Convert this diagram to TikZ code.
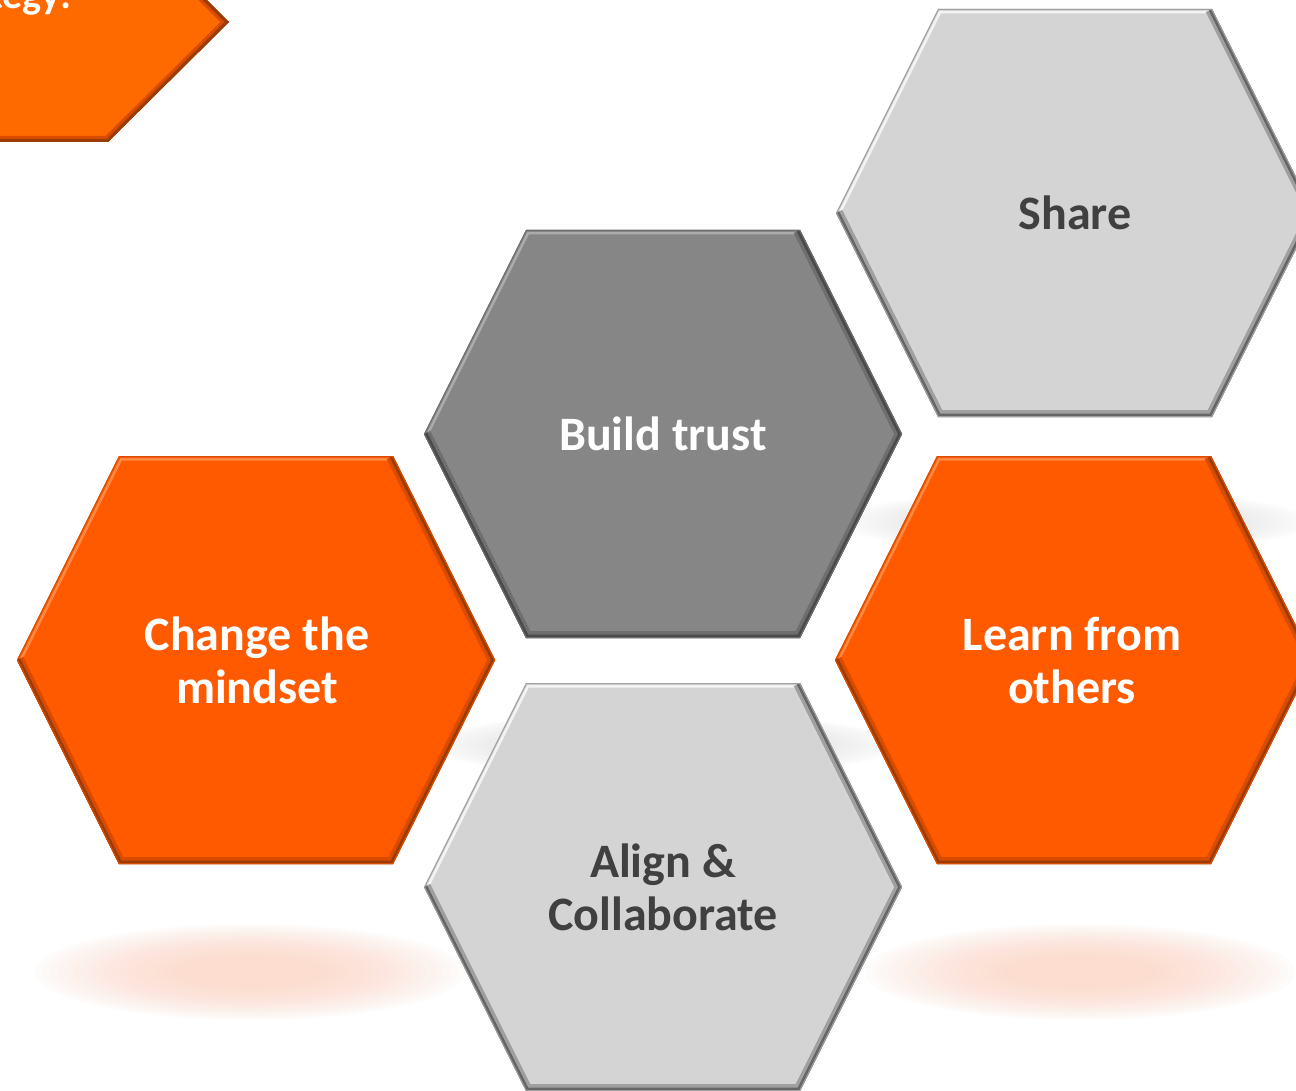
\documentclass[tikz,border=0pt]{standalone}
\usepackage{fontspec}
\setmainfont{Carlito}
\definecolor{orFill}{HTML}{FF5A00}
\definecolor{orLight}{HTML}{FF8C45}
\definecolor{orMid}{HTML}{D94C00}
\definecolor{orDark}{HTML}{9A3C06}
\definecolor{orTop}{HTML}{FF6A00}
\definecolor{lgFill}{HTML}{D4D4D4}
\definecolor{lgLight}{HTML}{F4F4F4}
\definecolor{lgMid}{HTML}{A0A0A0}
\definecolor{lgDark}{HTML}{666666}
\definecolor{dgFill}{HTML}{868686}
\definecolor{dgLight}{HTML}{ABABAB}
\definecolor{dgMid}{HTML}{6E6E6E}
\definecolor{dgDark}{HTML}{4A4A4A}
\definecolor{txtDark}{HTML}{404040}
\definecolor{shOr}{HTML}{FCD4C2}
\definecolor{shGr}{HTML}{D6D6D6}
\tikzset{
  lbl/.style={font=\bfseries\fontsize{48}{53}\selectfont, align=center, inner sep=0pt},
}
% hexagon path: centre x, centre y
\newcommand{\hexpath}[2]{(#1-239,#2) -- (#1-137,#2-204) -- (#1+137,#2-204) -- (#1+239,#2) -- (#1+137,#2+204) -- (#1-137,#2+204) -- cycle}
% hexagon: centre x, centre y, fill, light, mid, dark
\newcommand{\hexshape}[6]{%
  \begin{scope}
    \clip \hexpath{#1}{#2};
    \fill[#3] (#1-250,#2-215) rectangle (#1+250,#2+215);
    \draw[#4, line width=9pt, line join=miter] (#1-137,#2+204) -- (#1-239,#2) -- (#1-137,#2-204) -- (#1+137,#2-204);
    \draw[#3, line width=4pt, line join=miter] (#1-137,#2+204) -- (#1-239,#2) -- (#1-137,#2-204) -- (#1+137,#2-204);
    \draw[#5, line width=14pt, line join=miter] (#1+137,#2-204) -- (#1+239,#2) -- (#1+137,#2+204) -- (#1-137,#2+204) -- (#1-239,#2);
    \draw[#6, line width=7pt, line join=miter] (#1+137,#2-204) -- (#1+239,#2) -- (#1+137,#2+204) -- (#1-137,#2+204) -- (#1-239,#2);
    \draw[#5, line width=2pt] \hexpath{#1}{#2};
  \end{scope}}
\newcommand{\softshadow}[5]{% cx cy rx ry color
  \foreach \k in {0,...,19} {
    \fill[#5, opacity=0.055] (#1,#2) ellipse ({#3-\k*#3/28} and {#4-\k*#4/28});
  }}
\begin{document}
\begin{tikzpicture}[x=1pt,y=-1pt]
\useasboundingbox (0,0) rectangle (1296,1091);
\fill[white] (0,0) rectangle (1296,1091);

% soft shadows / reflections
\softshadow{250}{972}{215}{48}{shOr}
\softshadow{1080}{972}{215}{48}{shOr}
\softshadow{663}{745}{235}{32}{shGr}
\softshadow{1075}{522}{235}{32}{shGr}

% top-left partial shape
\begin{scope}
  \clip (-20,-98) -- (108,-98) -- (229,22) -- (108,142) -- (-20,142) -- cycle;
  \fill[orTop] (-20,-100) rectangle (240,150);
  \draw[orMid, line width=12pt, line join=miter] (108,-98) -- (229,22) -- (108,142) -- (-20,142);
  \draw[orDark, line width=6pt, line join=miter] (108,-98) -- (229,22) -- (108,142) -- (-20,142);
\end{scope}
\node[font=\bfseries\fontsize{40}{48}\selectfont, text=white, anchor=base east, inner sep=0pt] (strat) at (72,9) {Strategy:};

% hexagons
\hexshape{1075}{213}{lgFill}{lgLight}{lgMid}{lgDark}
\hexshape{663}{434}{dgFill}{dgLight}{dgMid}{dgDark}
\hexshape{256}{660}{orFill}{orLight}{orMid}{orDark}
\hexshape{1074}{660}{orFill}{orLight}{orMid}{orDark}
\hexshape{663}{887}{lgFill}{lgLight}{lgMid}{lgDark}

% labels
\node[lbl, text=txtDark] (share) at (1075,213) {Share};
\node[lbl, text=white] (trust) at (663,434) {Build trust};
\node[lbl, text=white] (mindset) at (257,660) {Change the\\mindset};
\node[lbl, text=white] (learn) at (1072,660) {Learn from\\others};
\node[lbl, text=txtDark] (align) at (663,887) {Align \&\\Collaborate};
\end{tikzpicture}
\end{document}
